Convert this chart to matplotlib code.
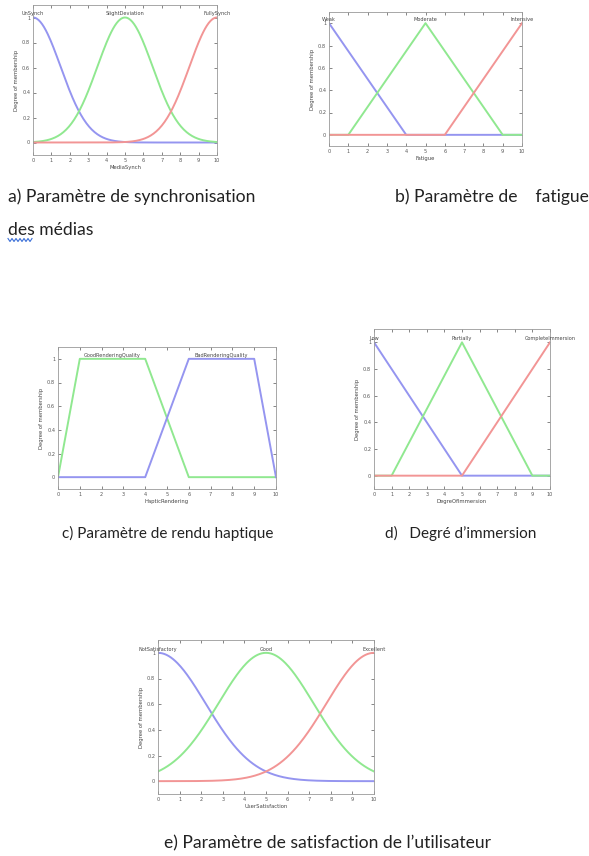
import numpy as np
import matplotlib.pyplot as plt
from matplotlib.lines import Line2D

# membership functions of the fuzzy inputs / output
x_range = [0, 10]
y_ticks = [0, 0.2, 0.4, 0.6, 0.8, 1]
y_ticklabels = ["0", "0.2", "0.4", "0.6", "0.8", "1"]

sync_names = ["UnSynch", "SlightDeviation", "FullySynch"]
sync_centers = [0, 5, 10]
sync_sigma = 1.5

fatigue_names = ["Weak", "Moderate", "Intensive"]
fatigue_pts = [[0, 0, 4], [1, 5, 9], [6, 10, 10]]

haptic_names = ["GoodRenderingQuality", "BadRenderingQuality"]
haptic_pts = [[0, 1, 4, 6], [4, 6, 9, 10]]

immersion_names = ["Low", "Partially", "CompleteImmersion"]
immersion_pts = [[0, 0, 5], [1, 5, 9], [5, 10, 10]]

satis_names = ["NotSatisfactory", "Good", "Excellent"]
satis_centers = [0, 5, 10]
satis_sigma = 2.2

colors = ["#9595f0", "#90e890", "#f29595"]

W, H = 589, 856
fig = plt.figure(figsize=(W / 100, H / 100), dpi=100)


def box(l, t, r, b):
    return fig.add_axes([l / W, 1 - b / H, (r - l) / W, (b - t) / H])


def trimf(p):
    a, b, c = p
    if a == b:
        return [a, b, c, x_range[1]], [1, 1, 0, 0]
    if b == c:
        return [x_range[0], a, b], [0, 0, 1]
    return [x_range[0], a, b, c, x_range[1]], [0, 0, 1, 0, 0]


def trapmf(p):
    a, b, c, d = p
    return [x_range[0], a, b, c, d, x_range[1]], [0, 0, 1, 1, 0, 0]


def setup(ax, xlabel, names, peaks):
    ax.set_xlim(*x_range)
    ax.set_ylim(-0.1, 1.1)
    ax.set_xticks(range(0, 11))
    ax.set_yticks(y_ticks)
    ax.set_yticklabels(y_ticklabels)
    ax.tick_params(direction="in", top=True, right=True, length=2, width=0.5,
                   labelsize=3.6, pad=2, colors="#555555")
    for s in ax.spines.values():
        s.set_color("#999999")
        s.set_linewidth(0.6)
    ax.set_xlabel(xlabel, fontsize=3.8, labelpad=1.5, color="#444444")
    ax.set_ylabel("Degree of membership", fontsize=3.8, labelpad=2, color="#444444")
    for name, px in zip(names, peaks):
        ax.text(px, 1.01, name, fontsize=3.6, ha="center", va="bottom",
                color="#444444", clip_on=False)


xs = np.linspace(0, 10, 201)

# a) media synchronisation
ax = box(33, 5, 217, 155)
for c, col in zip(sync_centers, colors):
    ax.plot(xs, np.exp(-(xs - c) ** 2 / (2 * sync_sigma ** 2)), color=col, lw=1.4)
setup(ax, "MediaSynch", sync_names, sync_centers)

# b) fatigue
ax = box(329, 12, 522, 146)
for p, col in zip(fatigue_pts, colors):
    ax.plot(*trimf(p), color=col, lw=1.4)
setup(ax, "Fatigue", fatigue_names, [p[1] for p in fatigue_pts])

# c) haptic rendering
ax = box(58, 347, 276, 489)
for p, col in zip(haptic_pts, [colors[1], colors[0]]):
    ax.plot(*trapmf(p), color=col, lw=1.4)
setup(ax, "HapticRendering", haptic_names, [2.5, 7.5])

# d) immersion degree
ax = box(374, 329, 550, 489)
for p, col in zip(immersion_pts, colors):
    ax.plot(*trimf(p), color=col, lw=1.4)
setup(ax, "DegreOfImmersion", immersion_names, [p[1] for p in immersion_pts])

# e) user satisfaction
ax = box(158, 640, 374, 794)
for c, col in zip(satis_centers, colors):
    ax.plot(xs, np.exp(-(xs - c) ** 2 / (2 * satis_sigma ** 2)), color=col, lw=1.4)
setup(ax, "UserSatisfaction", satis_names, satis_centers)

# captions
cap = dict(fontsize=12.6, family=["Lato", "DejaVu Sans"], color="#222222", va="center")
small = dict(cap, fontsize=11)
fig.text(8 / W, 1 - 197 / H, "a) Paramètre de synchronisation", ha="left", **cap)
fig.text(8 / W, 1 - 230 / H, "des médias", ha="left", **cap)
fig.text(395 / W, 1 - 197 / H, "b) Paramètre de    fatigue", ha="left", **cap)
fig.text(168 / W, 1 - 533 / H, "c) Paramètre de rendu haptique", ha="center", **small)
fig.text(385 / W, 1 - 533 / H, "d)   Degré d’immersion", ha="left", **small)
fig.text(328 / W, 1 - 843 / H, "e) Paramètre de satisfaction de l’utilisateur", ha="center", **cap)

# spell-check squiggle under "des"
wx = np.linspace(8, 32, 13)
wy = 240 + 1.5 * np.where(np.arange(13) % 2 == 0, -1, 1)
fig.add_artist(Line2D(wx / W, 1 - wy / H, color="#3a6fd8", lw=0.8))

fig.savefig("out.png", dpi=100)
